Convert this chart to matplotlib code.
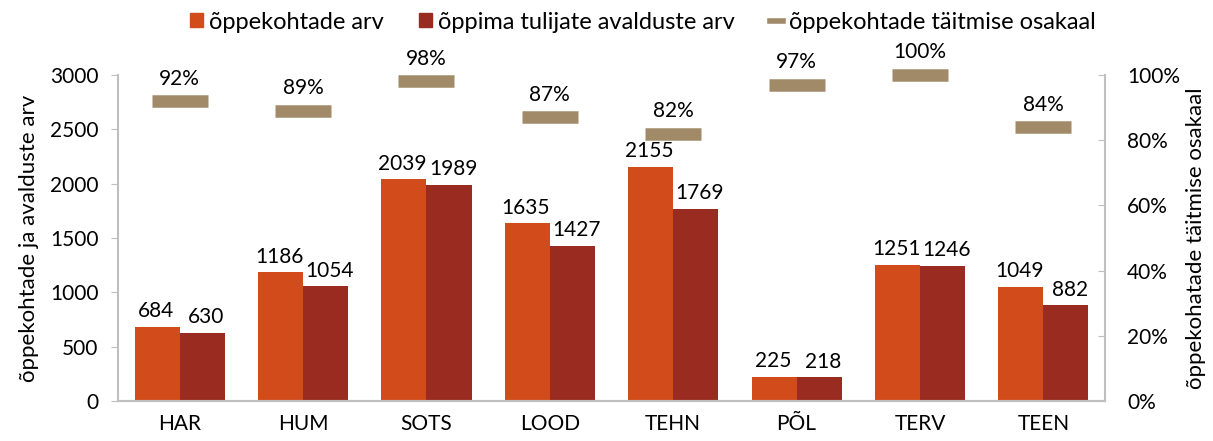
import matplotlib.pyplot as plt
import numpy as np
from matplotlib.lines import Line2D
from matplotlib.patches import Patch

categories = ["HAR", "HUM", "SOTS", "LOOD", "TEHN", "PÕL", "TERV", "TEEN"]
kohad = [684, 1186, 2039, 1635, 2155, 225, 1251, 1049]
avaldused = [630, 1054, 1989, 1427, 1769, 218, 1246, 882]
taitmine = [92, 89, 98, 87, 82, 97, 100, 84]

c_kohad = "#D24B1A"
c_aval = "#9A2B20"
c_osa = "#A08A68"
grey = "#BFBFBF"

plt.rcParams["font.family"] = ["Lato", "DejaVu Sans"]
plt.rcParams["font.size"] = 15

fig = plt.figure(figsize=(12.13, 4.41), dpi=100)
ax = fig.add_axes([0.0973, 0.0907, 0.8137, 0.7393])
ax2 = ax.twinx()

x = np.arange(len(categories))
w = 0.365
b1 = ax.bar(x - w / 2, kohad, w, color=c_kohad)
b2 = ax.bar(x + w / 2, avaldused, w, color=c_aval)

# value labels, the second series nudged right so neighbours don't touch
for bars, vals, dx in ((b1, kohad, -1), (b2, avaldused, 3)):
    for rect, v in zip(bars, vals):
        ax.annotate(str(v), (rect.get_x() + rect.get_width() / 2, v),
                    xytext=(dx, 4), textcoords="offset points",
                    ha="center", va="bottom")

ax.set_xlim(-0.5, len(categories) - 0.5)
ax.set_ylim(0, 3000)
ax.set_yticks(range(0, 3001, 500))
ax.set_xticks(x)
ax.set_xticklabels(categories)
ax.tick_params(axis="x", length=0, pad=9)
ax.tick_params(axis="y", length=5, color=grey, pad=9)
ax.set_ylabel("õppekohtade ja avalduste arv", fontsize=16, labelpad=8)

ax2.plot(x, taitmine, linestyle="none", marker="_", markersize=40,
         markeredgewidth=9, color=c_osa, clip_on=False)
for xi, p in zip(x, taitmine):
    ax2.annotate(f"{p}%", (xi, p), xytext=(0, 9), textcoords="offset points",
                 ha="center", va="bottom")
ax2.set_ylim(0, 100)
ax2.set_yticks(range(0, 101, 20))
ax2.set_yticklabels([f"{t}%" for t in range(0, 101, 20)])
ax2.tick_params(axis="y", direction="in", length=5, color=grey, pad=16)
ax2.set_ylabel("õppekohatade täitmise osakaal", fontsize=16, labelpad=4)

for a in (ax, ax2):
    a.spines["top"].set_visible(False)
    for side in ("left", "right", "bottom"):
        a.spines[side].set_color(grey)
        a.spines[side].set_linewidth(1.5)
ax.spines["right"].set_visible(False)
ax2.spines["left"].set_visible(False)

handles = [
    Patch(color=c_kohad, label="õppekohtade arv"),
    Patch(color=c_aval, label="õppima tulijate avalduste arv"),
    Line2D([0], [0], color=c_osa, linewidth=4, label="õppekohtade täitmise osakaal"),
]
fig.legend(handles=handles, loc="center", bbox_to_anchor=(0.53, 0.95), ncol=3,
           frameon=False, fontsize=17, handlelength=0.55, handleheight=0.55,
           handletextpad=0.25, columnspacing=1.5, borderaxespad=0, borderpad=0)

fig.savefig("out.png", dpi=100)
